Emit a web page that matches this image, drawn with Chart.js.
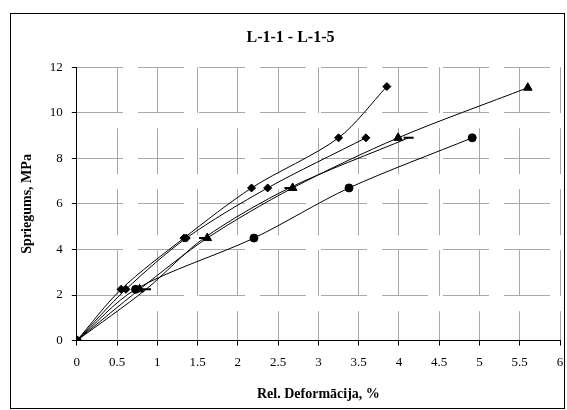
<!DOCTYPE html>
<html>
<head>
<meta charset="utf-8">
<script src="https://cdn.jsdelivr.net/npm/chart.js@4/dist/chart.umd.min.js"></script>
<style>
  html, body { margin: 0; padding: 0; background: #fff; }
  #wrap { width: 567px; height: 410px; }
</style>
</head>
<body>
<div id="wrap"><canvas id="chart"></canvas></div>
<script>
// stress levels (MPa) and deformation (%)
const seriesNames = ["L-1-1", "L-1-2", "L-1-3", "L-1-4", "L-1-5"];
const stressA = [0, 2.25, 4.5, 6.7, 8.9, 11.15];
const deformA = [0, 0.55, 1.33, 2.17, 3.25, 3.85];
const stressB = [0, 2.25, 4.5, 6.7, 8.9];
const deformB = [0, 0.61, 1.36, 2.37, 3.59];
const stressC = [0, 2.25, 4.5, 6.7, 8.9, 11.1];
const deformC = [0, 0.78, 1.62, 2.68, 3.99, 5.6];
const stressD = [0, 2.25, 4.5, 6.7, 8.9];
const deformD = [0, 0.86, 1.58, 2.64, 4.12];
const stressE = [0, 2.25, 4.5, 6.7, 8.9];
const deformE = [0, 0.73, 2.2, 3.38, 4.91];

const xTicks = [0, 0.5, 1, 1.5, 2, 2.5, 3, 3.5, 4, 4.5, 5, 5.5, 6];
const yTicks = [0, 2, 4, 6, 8, 10, 12];

const serif = "'Liberation Serif', 'Times New Roman', serif";

function pts(xs, ys) {
  return xs.map((x, i) => ({ x: x, y: ys[i] }));
}

function makeSet(name, xs, ys, style, radius) {
  return {
    label: name,
    data: pts(xs, ys),
    borderColor: "#000",
    backgroundColor: "#000",
    borderWidth: 1,
    pointStyle: style,
    pointRadius: radius,
    pointBorderWidth: style === "line" ? 2 : 1,
    tension: 0.3,
    fill: false,
  };
}

// outer frame like the excel chart area
const frame = {
  id: "frame",
  beforeDraw(chart) {
    const ctx = chart.ctx;
    ctx.save();
    ctx.fillStyle = "#fff";
    ctx.fillRect(0, 0, chart.width, chart.height);
    ctx.strokeStyle = "#000";
    ctx.lineWidth = 1;
    ctx.strokeRect(10.5, 13.5, 554, 395);
    ctx.restore();
  },
};

new Chart(document.getElementById("chart"), {
  type: "line",
  data: {
    datasets: [
      makeSet(seriesNames[0], deformA, stressA, "rectRot", 4),
      makeSet(seriesNames[1], deformB, stressB, "rectRot", 4),
      makeSet(seriesNames[2], deformC, stressC, "triangle", 5),
      makeSet(seriesNames[3], deformD, stressD, "line", 5),
      makeSet(seriesNames[4], deformE, stressE, "circle", 4),
    ],
  },
  options: {
    responsive: true,
    maintainAspectRatio: false,
    animation: false,
    layout: { padding: { left: 19, right: 5, top: 28, bottom: 7 } },
    plugins: {
      legend: { display: false },
      tooltip: { enabled: false },
      title: {
        display: true,
        text: "L-1-1 - L-1-5",
        color: "#000",
        font: { family: serif, size: 16, weight: "bold" },
        padding: { top: 0, bottom: 20 },
      },
    },
    scales: {
      x: {
        type: "linear",
        min: 0,
        max: 6,
        afterBuildTicks: (axis) => { axis.ticks = xTicks.map(v => ({ value: v })); },
        afterFit: (axis) => { axis.paddingRight = 0; axis.paddingLeft = 0; },
        ticks: {
          color: "#000",
          font: { family: serif, size: 13 },
          padding: 9,
          maxRotation: 0,
          callback: (v) => String(v),
        },
        grid: {
          color: "#a8a8a8",
          tickColor: "#000",
          tickLength: 5,
          tickBorderDash: [],
        },
        border: { color: "#000", width: 1, dash: [46, 15] },
        title: {
          display: true,
          text: "Rel. Deformācija, %",
          color: "#000",
          font: { family: serif, size: 14, weight: "bold" },
          padding: { top: 7, bottom: 0 },
        },
      },
      y: {
        type: "linear",
        min: 0,
        max: 12,
        afterBuildTicks: (axis) => { axis.ticks = yTicks.map(v => ({ value: v })); },
        ticks: {
          color: "#000",
          font: { family: serif, size: 13 },
          padding: 9,
          callback: (v) => String(v),
        },
        grid: {
          color: "#a8a8a8",
          tickColor: "#000",
          tickLength: 5,
          tickBorderDash: [],
        },
        border: { color: "#000", width: 1, dash: [46, 15] },
        title: {
          display: true,
          text: "Spriegums, MPa",
          color: "#000",
          font: { family: serif, size: 14, weight: "bold" },
          padding: { top: 0, bottom: 5 },
        },
      },
    },
  },
  plugins: [frame],
});
</script>
</body>
</html>
